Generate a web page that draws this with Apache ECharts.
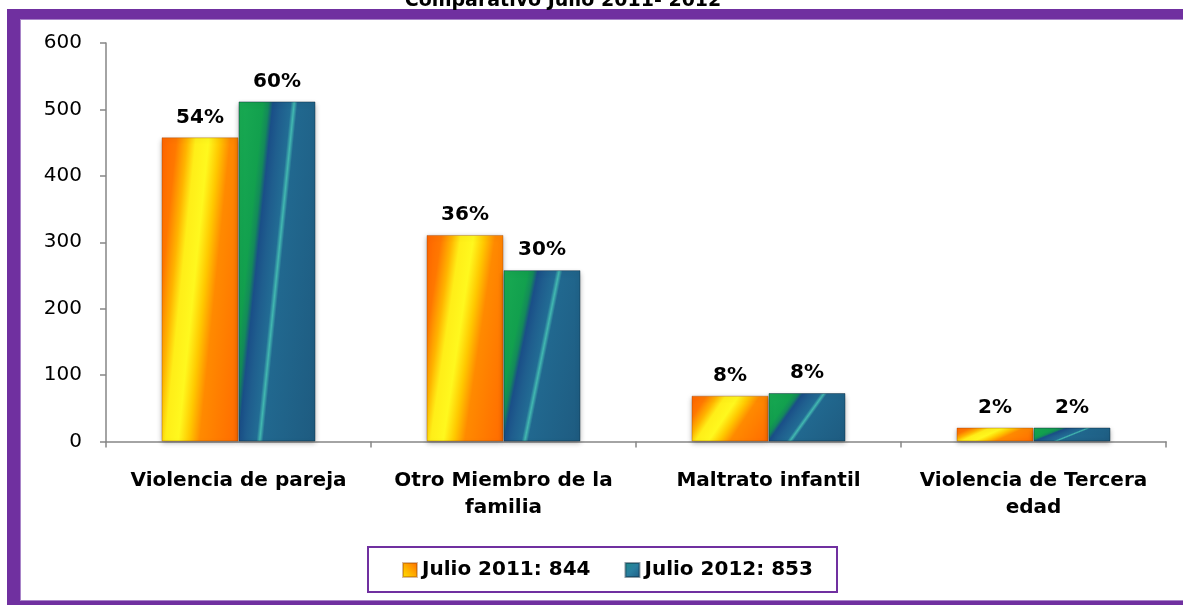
<!DOCTYPE html>
<html>
<head>
<meta charset="utf-8">
<script src="https://cdn.jsdelivr.net/npm/echarts@6/dist/echarts.min.js"></script>
<style>
html,body{margin:0;padding:0;background:#fff;overflow:hidden;}
#chart{width:1183px;height:605px;}
</style>
</head>
<body>
<div id="chart"></div>
<script>
const categories = ['Violencia de pareja', 'Otro Miembro de la\nfamilia', 'Maltrato infantil', 'Violencia de Tercera\nedad'];
const values2011 = [458, 311, 69, 21];
const values2012 = [512, 258, 73, 21];
const pct2011 = ['54%', '36%', '8%', '2%'];
const pct2012 = ['60%', '30%', '8%', '2%'];
const seriesNames = ['Julio 2011: 844', 'Julio 2012: 853'];
const titleText = 'Comparativo Julio 2011- 2012';
const yTicks = [0, 100, 200, 300, 400, 500, 600];

const FONT = 'DejaVu Sans';
const PURPLE = '#7030A0';
const GRID = {left: 106, right: 17, top: 43, bottom: 163.5};
const Y_MAX = 600;
const BAR_W = 77;
const PLOT_H = 605 - GRID.top - GRID.bottom;

const orangeStops = [
  {offset: 0, color: '#FF6400'},
  {offset: 0.14, color: '#FF7800'},
  {offset: 0.24, color: '#FFB400'},
  {offset: 0.32, color: '#FFEE18'},
  {offset: 0.44, color: '#FFF81E'},
  {offset: 0.54, color: '#FFC800'},
  {offset: 0.64, color: '#FF8A00'},
  {offset: 1, color: '#FF6A00'}
];
const blueStops = [
  {offset: 0, color: '#19AA52'},
  {offset: 0.22, color: '#12A04E'},
  {offset: 0.27, color: '#138A5A'},
  {offset: 0.31, color: '#1A4F88'},
  {offset: 0.38, color: '#1F5E8E'},
  {offset: 0.47, color: '#226C94'},
  {offset: 0.5, color: '#42B8B0'},
  {offset: 0.53, color: '#21688F'},
  {offset: 1, color: '#1E5B80'}
];

// gradient whose bands run parallel to the bar's diagonal from (a,1) to (a+k,0)
function diagGradient(w, h, k, stops) {
  const nx = h, ny = k * w;
  const span = w * h * (1 + k);
  const s = span / (nx * nx + ny * ny);
  return new echarts.graphic.LinearGradient(0, 0, (nx * s) / w, (ny * s) / h, stops);
}

function makeData(vals, pcts, k, stops) {
  return vals.map((v, i) => ({
    value: v,
    label: {formatter: pcts[i]},
    itemStyle: {color: diagGradient(BAR_W, Math.max(v / Y_MAX * PLOT_H, 1), k, stops)}
  }));
}

const chart = echarts.init(document.getElementById('chart'), null, {renderer: 'canvas'});
chart.setOption({
  backgroundColor: '#ffffff',
  animation: false,
  graphic: [
    {type: 'rect', shape: {x: 7, y: 9, width: 1176, height: 10}, style: {fill: PURPLE}, z: 100},
    {type: 'rect', shape: {x: 20, y: 19, width: 1163, height: 1}, style: {fill: '#A884C8'}, z: 100},
    {type: 'rect', shape: {x: 7, y: 9, width: 13, height: 596}, style: {fill: PURPLE}, z: 100},
    {type: 'rect', shape: {x: 20, y: 19, width: 1, height: 582}, style: {fill: '#A884C8'}, z: 100},
    {type: 'rect', shape: {x: 7, y: 601, width: 1176, height: 4}, style: {fill: PURPLE}, z: 100},
    {type: 'rect', shape: {x: 20, y: 600, width: 1163, height: 1}, style: {fill: '#A884C8'}, z: 100},
    {type: 'rect', shape: {x: 1168, y: 21, width: 15, height: 578}, style: {fill: '#ffffff'}, z: 200},
    {type: 'text', x: 563, y: 1, style: {text: titleText, font: 'bold 19px "DejaVu Sans"', fill: '#000', align: 'center', verticalAlign: 'middle'}, z: 100},
    {type: 'rect', shape: {x: 368, y: 547, width: 469, height: 45}, style: {fill: 'none', stroke: PURPLE, lineWidth: 2}, z: 100}
  ],
  legend: {
    data: [
      {name: seriesNames[0], itemStyle: {color: new echarts.graphic.LinearGradient(0, 1, 1, 0, [
        {offset: 0, color: '#FFE600'}, {offset: 0.45, color: '#FFB000'}, {offset: 1, color: '#FF6A00'}])}},
      {name: seriesNames[1], itemStyle: {color: new echarts.graphic.LinearGradient(0, 0, 1, 1, [
        {offset: 0, color: '#1E8C8A'}, {offset: 0.5, color: '#2A7FA0'}, {offset: 1, color: '#1E5C84'}])}}
    ],
    left: 402,
    top: 560,
    itemWidth: 14,
    itemHeight: 14,
    itemGap: 34,
    icon: 'rect',
    padding: 0,
    textStyle: {fontFamily: FONT, fontWeight: 'bold', fontSize: 20, color: '#000'}
  },
  grid: {left: GRID.left, right: GRID.right, top: GRID.top, bottom: GRID.bottom, containLabel: false},
  xAxis: {
    type: 'category',
    data: categories,
    axisLine: {lineStyle: {color: '#868686', width: 1.5}},
    axisTick: {show: true, length: 6, lineStyle: {color: '#868686', width: 1.5}},
    axisLabel: {interval: 0, margin: 26, fontFamily: FONT, fontWeight: 'bold', fontSize: 20, lineHeight: 27, color: '#000'}
  },
  yAxis: {
    type: 'value',
    min: 0,
    max: Y_MAX,
    interval: 100,
    axisLine: {show: true, lineStyle: {color: '#868686', width: 1.5}},
    axisTick: {show: true, length: 6, lineStyle: {color: '#868686', width: 1.5}},
    splitLine: {show: false},
    axisLabel: {margin: 24, fontFamily: FONT, fontSize: 20, color: '#000',
      formatter: v => yTicks.includes(v) ? String(v) : ''}
  },
  series: [
    {
      name: seriesNames[0], type: 'bar', data: makeData(values2011, pct2011, 0.4, orangeStops),
      barWidth: BAR_W, barGap: '0%',
      itemStyle: {color: '#FF8A00', borderColor: 'rgba(140,60,0,0.35)', borderWidth: 1,
        shadowBlur: 5, shadowColor: 'rgba(0,0,0,0.3)', shadowOffsetY: 2},
      label: {show: true, position: 'top', distance: 10, fontFamily: FONT, fontWeight: 'bold', fontSize: 20, color: '#000'}
    },
    {
      name: seriesNames[1], type: 'bar', data: makeData(values2012, pct2012, 0.45, blueStops),
      barWidth: BAR_W,
      itemStyle: {color: '#1E5C84', borderColor: 'rgba(10,40,60,0.45)', borderWidth: 1,
        shadowBlur: 5, shadowColor: 'rgba(0,0,0,0.3)', shadowOffsetY: 2},
      label: {show: true, position: 'top', distance: 10, fontFamily: FONT, fontWeight: 'bold', fontSize: 20, color: '#000'}
    }
  ]
});
</script>
</body>
</html>
